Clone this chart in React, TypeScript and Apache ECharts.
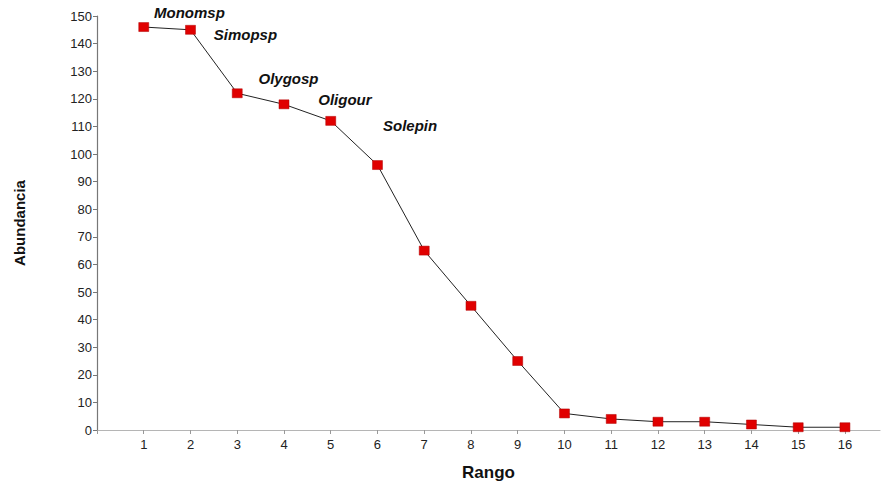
import React, { useEffect, useRef } from "react";
import * as echarts from "echarts";

const ranks = [1, 2, 3, 4, 5, 6, 7, 8, 9, 10, 11, 12, 13, 14, 15, 16];
const abundance = [146, 145, 122, 118, 112, 96, 65, 45, 25, 6, 4, 3, 3, 2, 1, 1];
const speciesLabels = ["Monomsp", "Simopsp", "Olygosp", "Oligour", "Solepin"];
const labelOffsets: [number, number][] = [
  [0, -15],
  [13, 5],
  [11, -15],
  [24, -5],
  [42, 5],
];

export default function App() {
  const ref = useRef<HTMLDivElement>(null);
  useEffect(() => {
    if (!ref.current) return;
    const chart = echarts.init(ref.current, null, { renderer: "svg" });
    const font = "'Liberation Sans', Arial, sans-serif";
    const data = ranks.map((r, i) => {
      const item: any = { value: [r, abundance[i]] };
      if (i < speciesLabels.length) {
        item.label = {
          show: true,
          position: "right",
          offset: labelOffsets[i],
          formatter: speciesLabels[i],
          fontFamily: font,
          fontSize: 15,
          fontWeight: "bold",
          fontStyle: "italic",
          color: "#111",
        };
      }
      return item;
    });
    chart.setOption({
      animation: false,
      backgroundColor: "#fff",
      grid: { left: 97, right: 3, top: 16, bottom: 51, containLabel: false },
      xAxis: {
        type: "value",
        min: 0,
        max: 16.75,
        interval: 1,
        name: "Rango",
        nameLocation: "middle",
        nameGap: 34,
        nameTextStyle: { fontFamily: font, fontSize: 17, fontWeight: "bold", color: "#111" },
        axisLine: { lineStyle: { color: "#b5b5b5", width: 1.2 } },
        axisTick: { show: true, length: 4, lineStyle: { color: "#999" } },
        axisLabel: {
          fontFamily: font,
          fontSize: 13,
          color: "#222",
          margin: 8,
          showMaxLabel: false,
          formatter: (v: number) => (v === 0 || v !== Math.round(v) ? "" : String(v)),
        },
        splitLine: { show: false },
      },
      yAxis: {
        type: "value",
        min: 0,
        max: 150,
        interval: 10,
        name: "Abundancia",
        nameLocation: "middle",
        nameGap: 70,
        nameRotate: 90,
        nameTextStyle: { fontFamily: font, fontSize: 15, fontWeight: "bold", color: "#111" },
        axisLine: { show: true, lineStyle: { color: "#777", width: 1.2 } },
        axisTick: { show: true, length: 4, lineStyle: { color: "#777" } },
        axisLabel: { fontFamily: font, fontSize: 13, color: "#222", margin: 5 },
        splitLine: { show: false },
      },
      series: [
        {
          type: "line",
          data,
          symbol: "rect",
          symbolSize: [10, 9],
          lineStyle: { color: "#222", width: 1 },
          itemStyle: { color: "#e00000", borderColor: "#b00000", borderWidth: 0.5 },
        },
      ],
    });
    return () => chart.dispose();
  }, []);
  return (
    <div
      ref={ref}
      style={{ position: "fixed", left: 0, top: 0, width: 883, height: 486 }}
    />
  );
}
